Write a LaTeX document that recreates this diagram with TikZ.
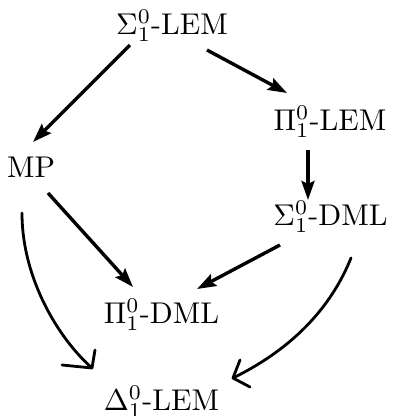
\documentclass[tikz,border=0pt]{standalone}
\usetikzlibrary{arrows.meta}

% labels are set at 10pt and enlarged three times
\newcommand{\biglabel}[1]{\scalebox{3}{#1}}

\tikzset{
  lbl/.style={inner sep=0pt, anchor=base},
  imp/.style={line width=3.4pt, -{Stealth[length=19pt,width=13pt,inset=3pt]}},
  sketch/.style={line width=2.8pt, line cap=round, line join=round}
}

\begin{document}
\begin{tikzpicture}[x=1pt, y=-1pt]
  \useasboundingbox (0,0) rectangle (392,416);

  % the six principles
  \node[lbl] (sLEM) at (172,34)    {\biglabel{$\Sigma^0_1$-LEM}};
  \node[lbl] (pLEM) at (330,130)   {\biglabel{$\Pi^0_1$-LEM}};
  \node[lbl] (mp)   at (31,177)    {\biglabel{MP}};
  \node[lbl] (sDML) at (330.5,225) {\biglabel{$\Sigma^0_1$-DML}};
  \node[lbl] (pDML) at (161.5,323) {\biglabel{$\Pi^0_1$-DML}};
  \node[lbl] (dLEM) at (161.5,410) {\biglabel{$\Delta^0_1$-LEM}};

  % implications
  \draw[imp] ([shift={(-42,11)}]sLEM.base)   -- ([shift={(2,-35)}]mp.base);
  \draw[imp] ([shift={(35,16)}]sLEM.base)    -- ([shift={(-43,-37)}]pLEM.base);
  \draw[imp] ([shift={(-22,20)}]pLEM.base)   -- ([shift={(-22.5,-25)}]sDML.base);
  \draw[imp] ([shift={(17,16)}]mp.base)      -- ([shift={(-28.5,-36)}]pDML.base);
  \draw[imp] ([shift={(-50.5,20)}]sDML.base) -- ([shift={(35.5,-34)}]pDML.base);

  % hand-drawn implications into Delta^0_1-LEM
  \coordinate (tipL) at ([shift={(-69.5,-42)}]dLEM.base);
  \coordinate (tipR) at ([shift={(71.5,-32)}]dLEM.base);

  \draw[sketch] ([shift={(-9,36)}]mp.base)
     .. controls +(0,67) and +(-32,-28) .. (tipL);
  \draw[sketch] ([shift={(-30,-3)}]tipL) -- (tipL) -- ([shift={(3,-18)}]tipL);

  \draw[sketch] ([shift={(20.5,33)}]sDML.base)
     .. controls +(-21,52) and +(57,-28) .. (tipR);
  \draw[sketch] ([shift={(7,-18)}]tipR) -- (tipR) -- ([shift={(17,9)}]tipR);
\end{tikzpicture}
\end{document}
